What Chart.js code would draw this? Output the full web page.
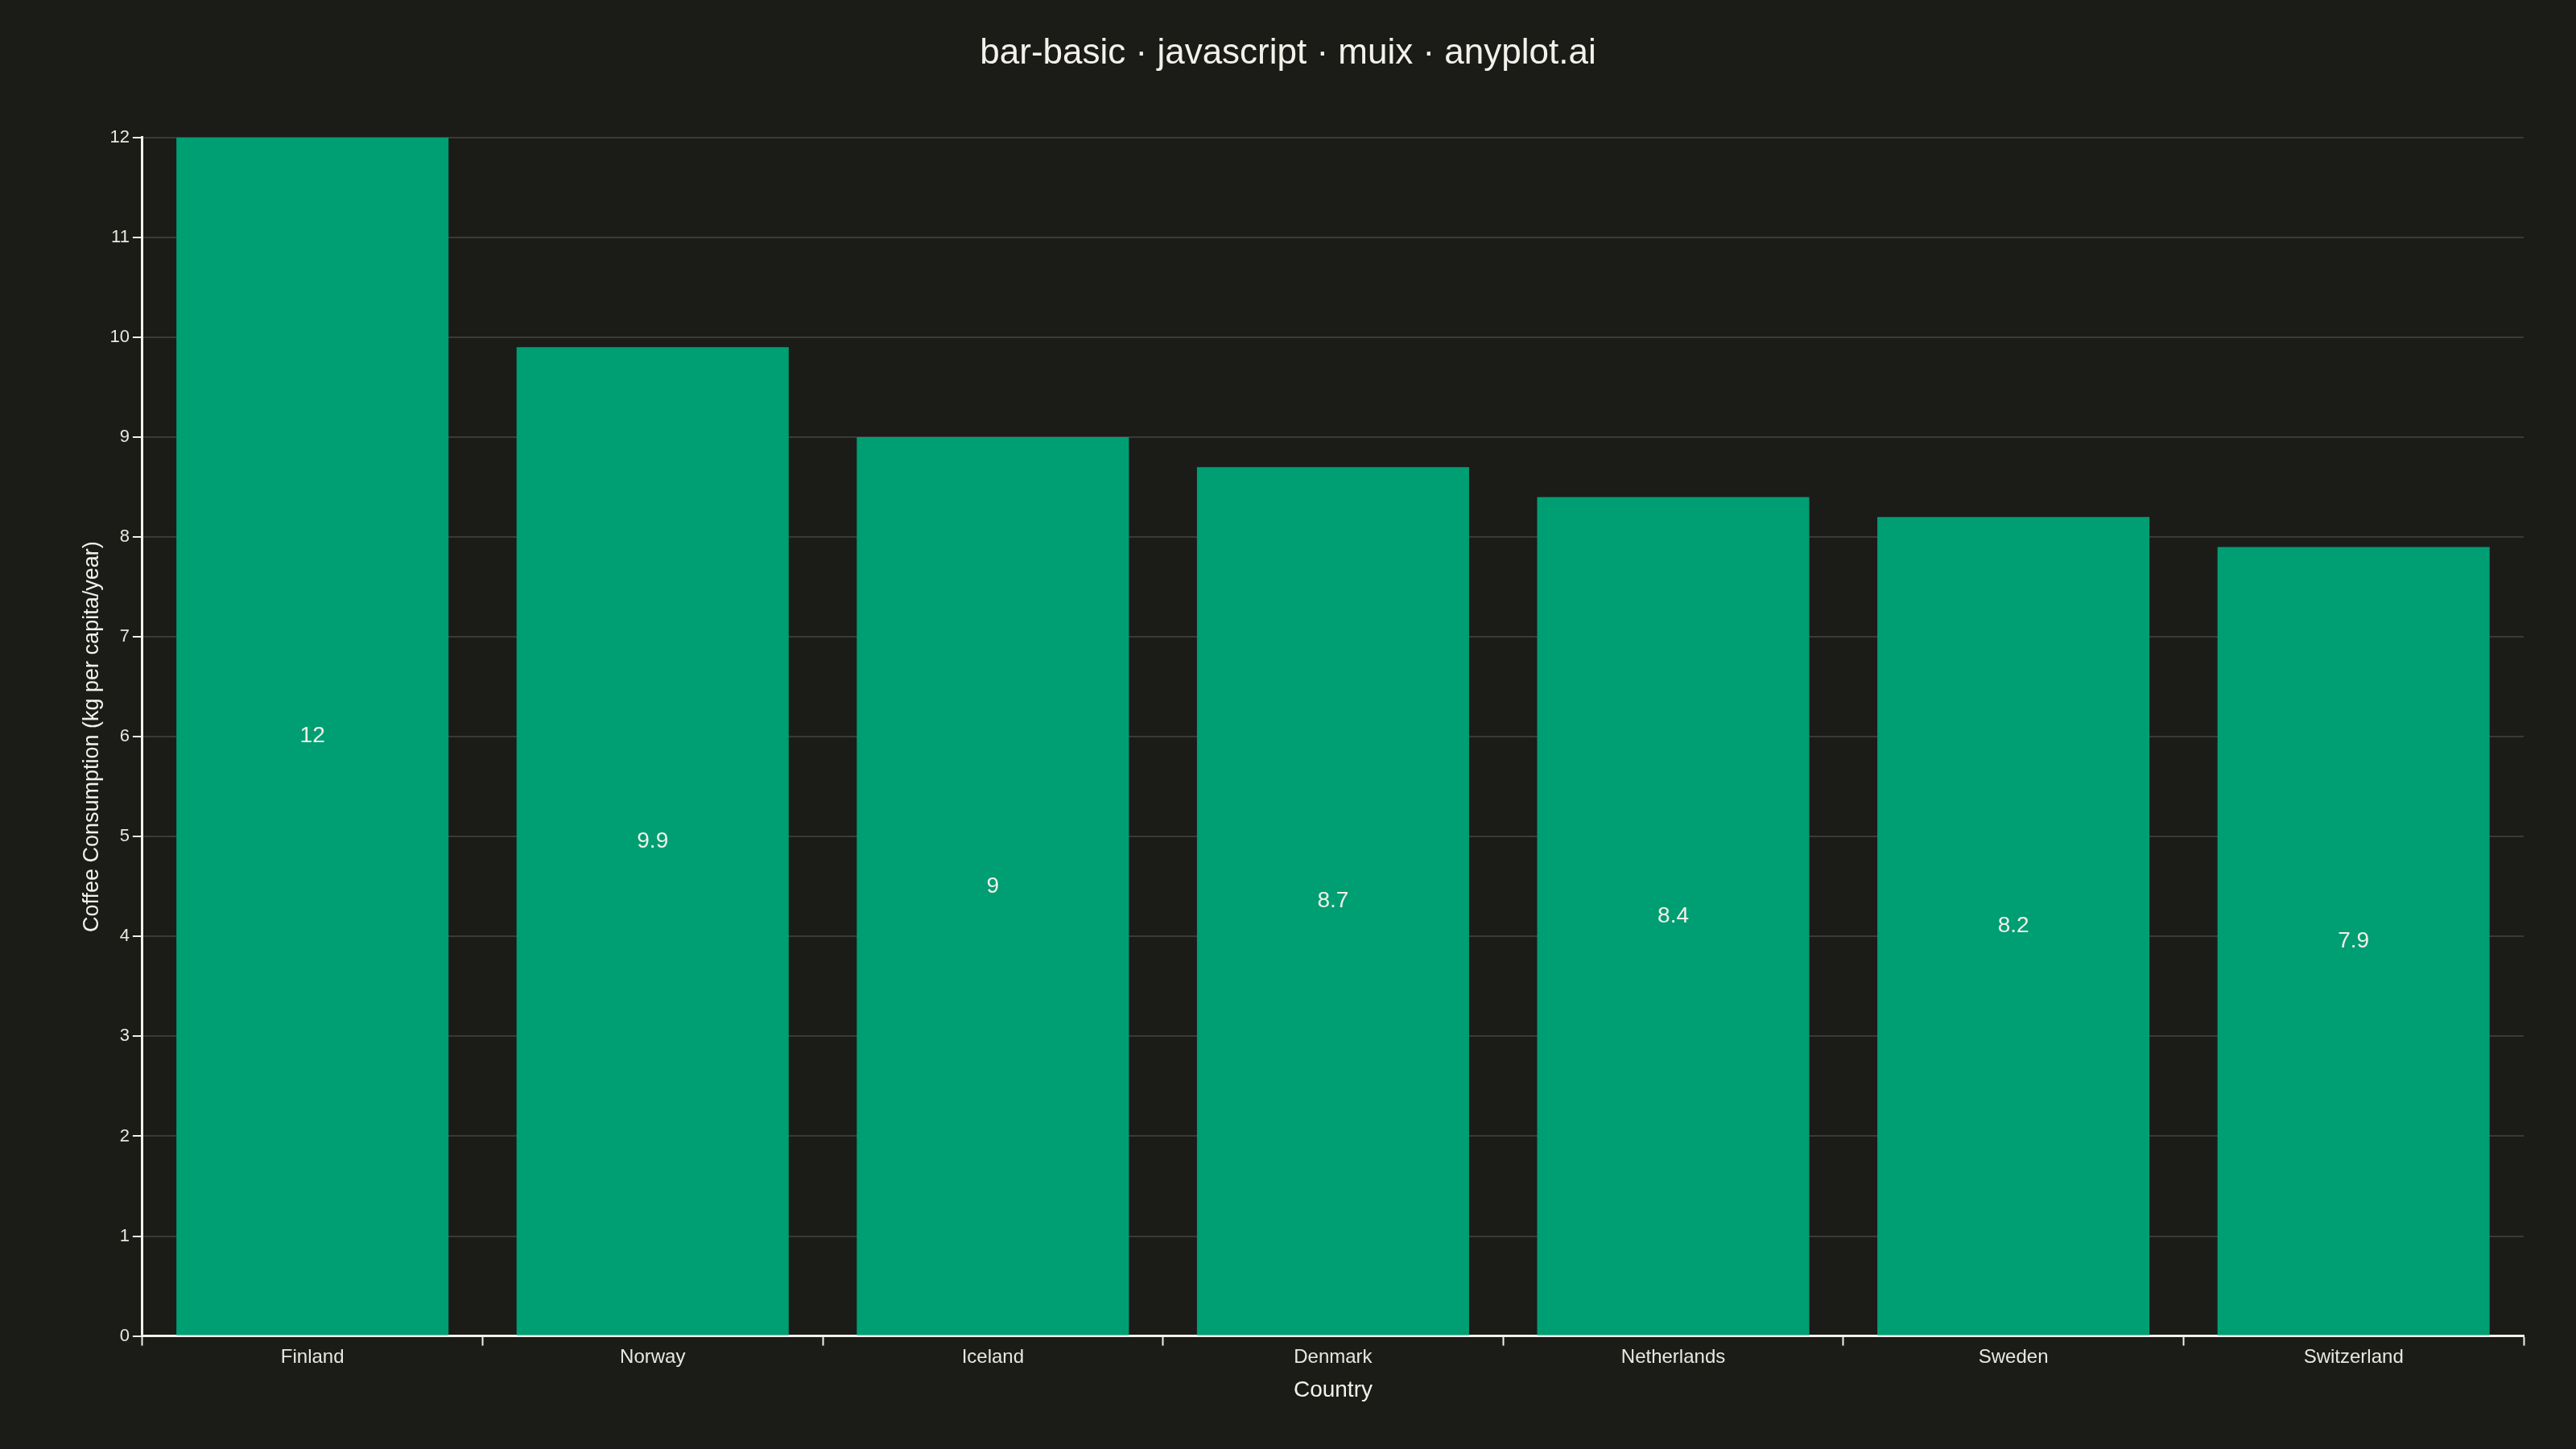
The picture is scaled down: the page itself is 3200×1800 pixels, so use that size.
<!DOCTYPE html>
<html>
<head>
<meta charset="utf-8">
<script src="https://cdn.jsdelivr.net/npm/chart.js@4"></script>
<style>
  html, body { margin: 0; padding: 0; background: #1b1b18; }
  #wrap { width: 3200px; height: 1800px; }
</style>
</head>
<body>
<div id="wrap"><canvas id="chart" width="3200" height="1800"></canvas></div>
<script>
const countries = ['Finland', 'Norway', 'Iceland', 'Denmark', 'Netherlands', 'Sweden', 'Switzerland'];
const consumption = [12, 9.9, 9, 8.7, 8.4, 8.2, 7.9];

const FONT = "'Liberation Sans', Arial, sans-serif";

// values written in the middle of each bar
const barLabels = {
  id: 'barLabels',
  afterDatasetsDraw(chart) {
    const ctx = chart.ctx;
    const meta = chart.getDatasetMeta(0);
    ctx.save();
    ctx.fillStyle = '#f2f1ea';
    ctx.font = '28px ' + FONT;
    ctx.textAlign = 'center';
    ctx.textBaseline = 'middle';
    meta.data.forEach((bar, i) => {
      const mid = (bar.y + bar.base) / 2;
      ctx.fillText(String(consumption[i]), bar.x, mid);
    });
    ctx.restore();
  }
};

new Chart(document.getElementById('chart'), {
  type: 'bar',
  data: {
    labels: countries,
    datasets: [
      {
        label: 'Coffee Consumption',
        data: consumption,
        backgroundColor: '#009e73',
        borderWidth: 0,
        barPercentage: 1,
        categoryPercentage: 0.8,
      },
    ],
  },
  options: {
    responsive: false,
    devicePixelRatio: 1,
    animation: false,
    layout: {
      padding: { left: 65, right: 65, top: 22, bottom: 56 },
    },
    scales: {
      x: {
        border: { display: true, color: '#f2f1ea', width: 3 },
        grid: {
          display: true,
          drawOnChartArea: false,
          drawTicks: true,
          tickLength: 12,
          tickColor: '#f2f1ea',
          tickWidth: 2,
        },
        ticks: {
          color: '#e8e7e0',
          font: { size: 24, family: FONT },
          padding: 0,
        },
        title: {
          display: true,
          text: 'Country',
          color: '#f2f1ea',
          font: { size: 28, family: FONT },
          padding: { top: 10, bottom: 0 },
        },
      },
      y: {
        min: 0,
        max: 12,
        border: { display: true, color: '#f2f1ea', width: 3 },
        grid: {
          color: '#3a3a36',
          lineWidth: 2,
          drawTicks: true,
          tickLength: 12,
          tickColor: '#f2f1ea',
          tickWidth: 2,
        },
        ticks: {
          stepSize: 1,
          color: '#e8e7e0',
          font: { size: 22, family: FONT },
          padding: 4,
        },
        title: {
          display: true,
          text: 'Coffee Consumption (kg per capita/year)',
          color: '#f2f1ea',
          font: { size: 27, family: FONT },
          padding: { top: 33, bottom: 2 },
        },
      },
    },
    plugins: {
      legend: { display: false },
      tooltip: { enabled: false },
      title: {
        display: true,
        text: 'bar-basic · javascript · muix · anyplot.ai',
        color: '#f2f1ea',
        font: { size: 44, family: FONT, weight: 'normal' },
        padding: { top: 18, bottom: 78 },
      },
    },
  },
  plugins: [barLabels],
});
</script>
</body>
</html>
